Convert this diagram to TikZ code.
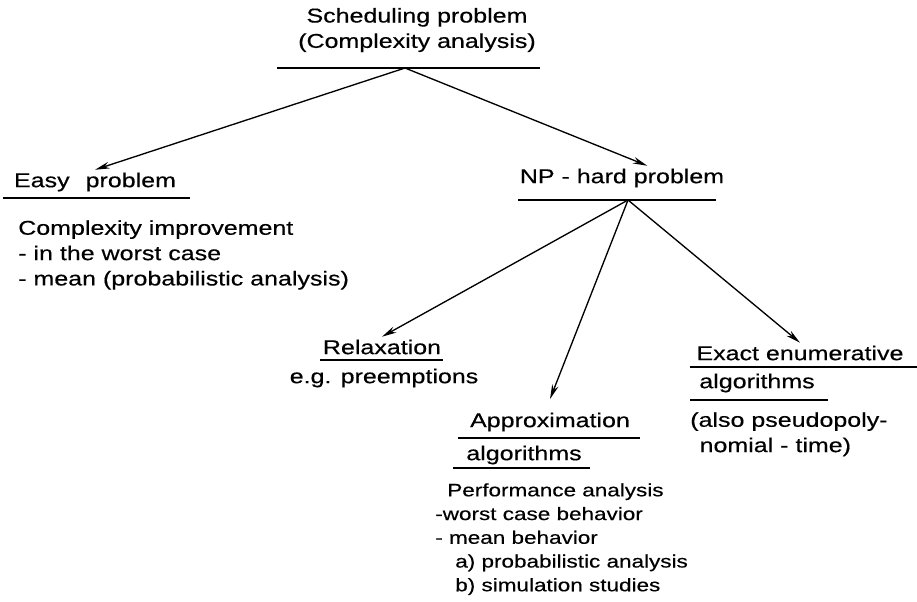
\documentclass[tikz,border=0pt]{standalone}
\usepackage{fontspec}
\setmainfont{Liberation Sans}[FakeStretch=1.25,FakeBold=0.4]
\usetikzlibrary{arrows.meta}

\tikzset{
head/.style={inner sep=2pt},
txt/.style={align=left,inner sep=0pt},
uline/.style={line width=1.4pt},
arr/.style={-{Stealth[length=11pt,width=5pt]},line width=1pt}
}

\begin{document}
\begin{tikzpicture}[x=0.75pt,y=-0.75pt,font=\fontsize{15}{19}\selectfont]
\useasboundingbox (0,0) rectangle (917,601);

\node[align=center] (sched) at (417,30) {Scheduling problem\\(Complexity analysis)};
\draw[uline] (277,68) -- (540,68);
\coordinate (sa) at (405,68);

\node[head] (easy) at (95,182) {Easy\hspace{12pt}problem};
\draw[uline] (3,198) -- (190,198);
\node[txt,anchor=north west] (easytxt) at (18,220) {Complexity improvement\\- in the worst case\\- mean (probabilistic analysis)};

\node[head] (np) at (622,178) {NP - hard problem};
\draw[uline] (518,200) -- (716,200);
\coordinate (na) at (628,200);

\node[head] (relax) at (382,347) {Relaxation};
\draw[uline] (320,360) -- (443,360);
\node[txt] (relaxtxt) at (384,378) {e.g. preemptions};

\node[head] (approx) at (550,422) {Approximation};
\draw[uline] (458,438) -- (640,438);
\node[head] (approxalg) at (524,455) {algorithms};
\draw[uline] (453,468) -- (590,468);
\node[txt,anchor=north west,font=\fontsize{13.5}{17.8}\selectfont] (approxtxt) at (435,483) {\hspace*{9pt}Performance analysis\\-worst case behavior\\- mean behavior\\\hspace*{15pt}a) probabilistic analysis\\\hspace*{15pt}b) simulation studies};

\node[head] (exact) at (800,353) {Exact enumerative};
\draw[uline] (690,367) -- (917,367);
\node[head] (exactalg) at (757,383) {algorithms};
\draw[uline] (690,400) -- (828,400);
\node[txt,anchor=north west] (exacttxt) at (690,412) {(also pseudopoly-\\\hspace*{7pt}nomial - time)};

\draw[arr] (sa) -- (easy.north);
\draw[arr] (sa) -- ([xshift=19pt]np.north);
\draw[arr] (na) -- (relax.north);
\draw[arr] (na) -- ([yshift=8pt]approx.north);
\draw[arr] (na) -- (exact.north);
\end{tikzpicture}
\end{document}
